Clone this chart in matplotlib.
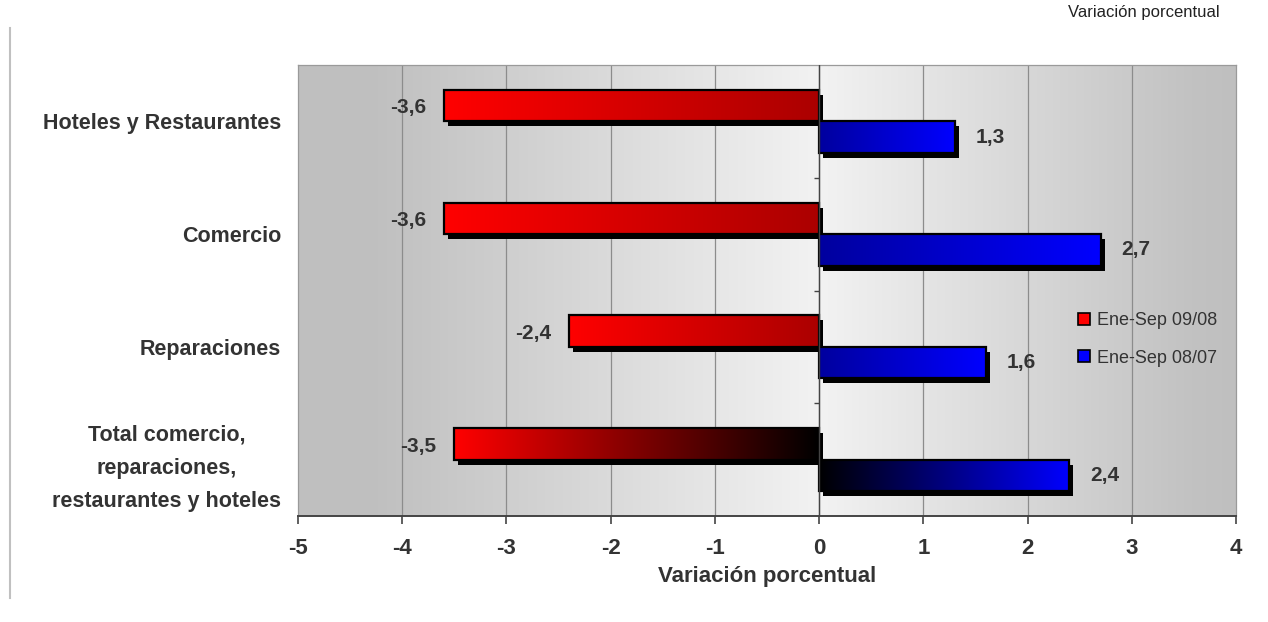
import numpy as np
import matplotlib
matplotlib.use('Agg')
import matplotlib.pyplot as plt
from matplotlib.patches import Rectangle, Patch
from matplotlib.colors import LinearSegmentedColormap

plt.rcParams['font.family'] = ['Liberation Sans', 'DejaVu Sans']

categories = ['Total comercio,\nreparaciones,\nrestaurantes y hoteles',
              'Reparaciones', 'Comercio', 'Hoteles y Restaurantes']
serie_0908 = [-3.5, -2.4, -3.6, -3.6]
serie_0807 = [2.4, 1.6, 2.7, 1.3]
labels_0908 = ['-3,5', '-2,4', '-3,6', '-3,6']
labels_0807 = ['2,4', '1,6', '2,7', '1,3']
series_names = ['Ene-Sep 09/08', 'Ene-Sep 08/07']
xticks = [-5, -4, -3, -2, -1, 0, 1, 2, 3, 4]

# dark end of the gradient (at zero) for each bar; total row fades to black
red_dark = [(0, 0, 0), (0.67, 0, 0), (0.67, 0, 0), (0.67, 0, 0)]
blue_dark = [(0, 0, 0), (0, 0, 0.62), (0, 0, 0.62), (0, 0, 0.62)]

TXT = '#333333'
fig = plt.figure(figsize=(12.68, 6.22), dpi=100)
ax = fig.add_axes([298 / 1268, 1 - 516 / 622, 938 / 1268, 451 / 622])
xmin, xmax = -5, 4
ymin, ymax = -0.5, len(categories) - 0.5
ax.set_xlim(xmin, xmax)
ax.set_ylim(ymin, ymax)

# background gradient
xs = np.linspace(xmin, xmax, 400)
g = np.interp(xs, [-5, -4.3, 0, 3.6, 4], [0.75, 0.75, 0.95, 0.76, 0.75])
bg = np.dstack([g, g, g])[0][None, :, :]
ax.imshow(bg, extent=[xmin, xmax, ymin, ymax], aspect='auto', zorder=0)

for t in xticks[1:-1]:
    ax.axvline(t, color='#8c8c8c', lw=0.9, zorder=1)

h = 0.28
px_x = (xmax - xmin) / 938.0
px_y = (ymax - ymin) / 451.0
sdx, sdy = 4 * px_x, 5 * px_y


def grad_bar(x0, x1, y0, y1, c_left, c_right, z):
    ax.add_patch(Rectangle((x0 + sdx, y0 - sdy), x1 - x0, y1 - y0,
                           facecolor='black', edgecolor='none', zorder=z))
    cmap = LinearSegmentedColormap.from_list('g', [c_left, c_right])
    arr = np.linspace(0, 1, 256)[None, :]
    ax.imshow(arr, cmap=cmap, extent=[x0, x1, y0, y1], aspect='auto',
              zorder=z + 0.1, interpolation='bilinear')
    ax.add_patch(Rectangle((x0, y0), x1 - x0, y1 - y0, facecolor='none',
                           edgecolor='black', lw=1.6, zorder=z + 0.2))


for i, cat in enumerate(categories):
    v1 = serie_0908[i]
    v2 = serie_0807[i]
    grad_bar(min(v1, 0), max(v1, 0), i, i + h, (1, 0, 0), red_dark[i], 3)
    grad_bar(0, v2, i - h, i, blue_dark[i], (0, 0, 1), 4)
    ax.text(v1 - 0.17, i + h / 2 - 0.02, labels_0908[i], ha='right',
            va='center', fontsize=15, fontweight='bold', color=TXT, zorder=6)
    ax.text(v2 + 0.2, i - h / 2, labels_0807[i], ha='left', va='center',
            fontsize=15, fontweight='bold', color=TXT, zorder=6)

# zero axis with ticks at category boundaries
ax.axvline(0, color='#444444', lw=1.0, zorder=5)
bounds = np.arange(len(categories) - 1) + 0.5
ax.hlines(bounds, -5 * px_x, 0, color='#444444', lw=1.0, zorder=5)

ax.set_yticks(range(len(categories)))
ax.set_yticklabels(categories, fontsize=15.5, fontweight='bold', color=TXT,
                   multialignment='center', linespacing=1.78)
for lab in ax.get_yticklabels():
    lab.set_y(lab.get_position()[1])
ax.tick_params(axis='y', length=0, pad=12)
ax.set_xticks(xticks)
ax.set_xticklabels([str(t) for t in xticks], fontsize=16,
                   fontweight='bold', color=TXT)
ax.tick_params(axis='x', length=6, width=1.2, color='#444444', pad=10)

for s in ['left', 'top', 'right']:
    ax.spines[s].set_color('#9a9a9a')
    ax.spines[s].set_linewidth(0.9)
ax.spines['bottom'].set_color('#444444')
ax.spines['bottom'].set_linewidth(1.4)

ax.set_xlabel('Variación porcentual', fontsize=16, fontweight='bold',
              color=TXT, labelpad=5)

fig.text(1220 / 1268, 1 - 13 / 622, 'Variación porcentual', ha='right',
         va='center', fontsize=12, color='#222222')

# left vertical rule
fig.add_artist(plt.Line2D([10 / 1268, 10 / 1268], [1 - 28 / 622, 1 - 598 / 622],
                          color='#c0c0c0', lw=1.5))

handles = [Patch(facecolor='#ff0000', edgecolor='black', lw=1.2),
           Patch(facecolor='#0000ff', edgecolor='black', lw=1.2)]
leg = fig.legend(handles, series_names, loc='upper left',
                 bbox_to_anchor=(1078 / 1268, 1 - 312 / 622), frameon=False,
                 fontsize=13, handlelength=0.65, handleheight=0.65,
                 handletextpad=0.4, labelspacing=1.15, borderpad=0,
                 borderaxespad=0)
for t in leg.get_texts():
    t.set_color(TXT)

fig.savefig('out.png', dpi=100)
